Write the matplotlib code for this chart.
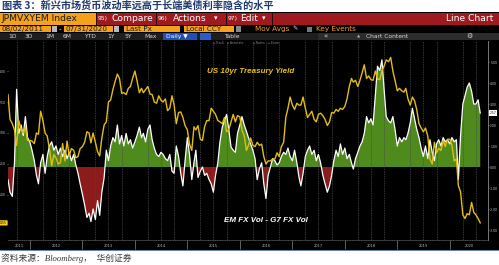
import datetime as dt

import numpy as np
import matplotlib
matplotlib.use("Agg")
import matplotlib.pyplot as plt
import matplotlib.dates as mdates
import matplotlib.transforms as mtransforms
from matplotlib.patches import Rectangle

# ---- data: two readings per month (1st and 16th), Aug 2011 .. Jul 2020 ----
# US 10yr Treasury yield (%), left axis
yield_2011 = [2.62, 2.22, 2.15, 2.05, 1.80, 2.20, 2.05, 2.00, 2.10, 1.88]
yield_2012 = [1.88, 1.87, 1.83, 2.00, 1.98, 2.35, 2.20, 2.00, 1.95, 1.75, 1.47, 1.65,
              1.60, 1.50, 1.52, 1.83, 1.55, 1.87, 1.63, 1.75, 1.72, 1.60, 1.62, 1.75]
yield_2013 = [1.78, 1.85, 2.02, 2.00, 1.84, 2.00, 1.85, 1.70, 1.63, 1.92, 2.13, 2.18,
              2.50, 2.53, 2.70, 2.83, 2.95, 2.88, 2.64, 2.65, 2.62, 2.72, 2.75, 2.88]
yield_2014 = [3.00, 2.84, 2.65, 2.72, 2.65, 2.70, 2.75, 2.63, 2.62, 2.50, 2.48, 2.60,
              2.53, 2.50, 2.55, 2.36, 2.40, 2.60, 2.45, 2.15, 2.33, 2.34, 2.25, 2.12]
yield_2015 = [2.05, 1.82, 1.72, 2.10, 2.05, 2.12, 1.90, 1.88, 2.10, 2.20, 2.20, 2.40,
              2.35, 2.30, 2.20, 2.18, 2.15, 2.25, 2.02, 2.05, 2.18, 2.30, 2.18, 2.28]
yield_2016 = [2.26, 2.05, 1.95, 1.72, 1.80, 1.92, 1.80, 1.78, 1.85, 1.80, 1.82, 1.62,
              1.50, 1.55, 1.55, 1.58, 1.58, 1.68, 1.62, 1.78, 1.85, 2.25, 2.40, 2.58]
yield_2017 = [2.45, 2.38, 2.48, 2.45, 2.45, 2.58, 2.40, 2.25, 2.30, 2.35, 2.22, 2.18,
              2.30, 2.32, 2.28, 2.22, 2.12, 2.18, 2.33, 2.32, 2.38, 2.35, 2.40, 2.38]
yield_2018 = [2.43, 2.55, 2.75, 2.88, 2.82, 2.85, 2.75, 2.85, 2.97, 3.10, 2.88, 2.92,
              2.86, 2.85, 3.00, 2.87, 2.86, 3.00, 3.08, 3.18, 3.15, 3.22, 3.00, 2.85]
yield_2019 = [2.68, 2.72, 2.68, 2.66, 2.72, 2.55, 2.45, 2.58, 2.52, 2.38, 2.15, 2.08,
              2.02, 2.08, 1.95, 1.58, 1.50, 1.85, 1.68, 1.75, 1.72, 1.88, 1.78, 1.90]
yield_2020 = [1.90, 1.80, 1.55, 1.58, 1.15, 1.05, 0.68, 0.62, 0.70, 0.68, 0.88, 0.72,
              0.68, 0.62, 0.55]

# EM FX vol minus G7 FX vol, right axis
spread_2011 = [-0.6, -1.2, -1.4, 0.2, 3.7, 1.6, 2.0, 1.5, 2.4, 1.4]
spread_2012 = [1.2, 0.8, 0.3, -0.4, -0.8, 0.2, 0.6, -0.3, 0.5, 1.0, 1.2, 0.8,
               1.0, 0.6, 0.9, 0.5, 0.8, 0.4, 0.7, 0.3, 0.6, 0.1, -0.3, -0.8]
spread_2013 = [-1.3, -1.8, -2.4, -2.2, -2.6, -2.0, -2.5, -1.6, -2.3, -1.2, -0.5, 0.8,
               0.3, 1.0, 1.4, 1.2, 2.0, 1.1, 1.5, 1.0, 1.6, 1.1, 1.3, 0.9]
spread_2014 = [1.2, 1.5, 1.9, 1.4, 1.6, 1.2, 1.8, 2.0, 1.3, 0.9, 0.6, 0.5,
               0.7, 0.6, 0.4, 0.3, 0.6, -0.2, -0.3, 1.0, 0.5, -0.3, -0.9, 0.3]
spread_2015 = [1.4, 0.6, -0.6, 0.2, 0.8, -0.5, -0.2, 0.0, -0.4, -0.3, -0.6, -0.8,
               -1.2, -0.4, 0.2, 1.2, 1.9, 2.2, 2.5, 1.8, 0.95, 0.8, 0.7, 1.6]
spread_2016 = [2.0, 2.4, 2.0, 1.7, 1.4, 1.1, 0.8, 0.4, -0.6, -0.1, 0.2, -0.8,
               -1.5, -0.4, 0.0, 0.4, 0.3, 0.1, 0.2, 0.5, 0.7, 0.6, 0.9, 0.5]
spread_2017 = [0.3, 0.8, 0.2, -0.5, -0.9, -0.3, 0.5, 0.8, 1.0, 0.6, 0.8, 0.3,
               0.6, 0.2, -0.4, -0.8, -1.2, -0.9, -0.4, 0.3, 0.8, 0.5, 1.1, 0.6]
spread_2018 = [0.9, 0.4, 0.6, 0.2, -0.1, 0.4, 0.7, 1.0, 1.2, 1.6, 2.4, 2.1,
               2.3, 2.0, 3.4, 4.8, 4.6, 5.1, 3.7, 2.4, 2.2, 2.1, 2.4, 1.8]
spread_2019 = [1.0, 1.4, 1.2, 1.4, 1.3, 1.6, 2.1, 2.8, 2.3, 1.8, 1.4, 0.9,
               0.5, 1.0, 0.4, 1.3, 0.7, 0.3, 1.1, 1.3, 1.0, 1.4, 1.2, 1.3]
spread_2020 = [1.1, 1.4, 1.2, 1.3, -0.6, 1.5, 3.0, 3.4, 3.8, 4.0, 3.6, 3.0,
               3.0, 3.2, 2.57]

year_labels = ["2011", "2012", "2013", "2014", "2015", "2016", "2017", "2018", "2019", "2020"]
left_ticks = [1.0, 1.5, 2.0, 2.5, 3.0]
right_ticks = [-3, -2, -1, 0, 1, 2, 3, 4, 5]

months = [(y, m) for y in range(2011, 2021) for m in range(1, 13)
          if (2011, 8) <= (y, m) <= (2020, 7)]
dates = [dt.date(y, m, d) for (y, m) in months for d in (1, 16)] + [dt.date(2020, 7, 31)]
dates[0] = dt.date(2011, 8, 2)

yld = np.array(yield_2011 + yield_2012 + yield_2013 + yield_2014 + yield_2015
               + yield_2016 + yield_2017 + yield_2018 + yield_2019 + yield_2020)
spread = np.array(spread_2011 + spread_2012 + spread_2013 + spread_2014 + spread_2015
                  + spread_2016 + spread_2017 + spread_2018 + spread_2019 + spread_2020)
x = mdates.date2num(dates)

# =========================
# figure + header (pixel layout of the screenshot)
# =========================
W, H = 499, 265
fig = plt.figure(figsize=(W / 100, H / 100), dpi=100, facecolor="white")


def box(x0, y0, w, h, color, z=0):
    fig.add_artist(Rectangle((x0 / W, 1 - (y0 + h) / H), w / W, h / H,
                             transform=fig.transFigure, facecolor=color,
                             edgecolor="none", zorder=z))


def txt(x0, y0, s, size, color, ha="left", **kw):
    fig.text(x0 / W, 1 - y0 / H, s, fontsize=size, color=color, ha=ha, va="center", **kw)


box(0, 12, W, 238, "black")
box(0, 249.5, W, 1, "#6a86b8", z=1)

# title + source
txt(2, 6, "图表 3：新兴市场货币波动率远高于长端美债利率隐含的水平", 7.3, "#1f3a6e",
    family=["Noto Sans CJK SC", "DejaVu Sans"], weight="bold")
txt(1, 258, "资料来源：Bloomberg，  华创证券", 6.3, "#3a3a3a",
    family=["Liberation Serif", "Noto Sans CJK SC"], style="italic")

# row 1
box(0, 12.5, 96, 12, "#f4a11d", z=1)
box(96, 12.5, 403, 12, "#9e1a1e", z=1)
for sx in (96, 156, 226, 272):
    box(sx, 12.5, 1, 12, "#2a0505", z=2)
txt(2, 18.5, "JPMVXYEM Index", 6.6, "#1a1a1a")
txt(98, 18.5, "95)", 4.3, "white")
txt(112, 18.5, "Compare", 6.6, "white")
txt(158, 18.5, "96)", 4.3, "white")
txt(173, 18.5, "Actions", 6.6, "white")
txt(214, 18.5, "▾", 5, "white")
txt(228, 18.5, "97)", 4.3, "white")
txt(240, 18.5, "Edit", 6.6, "white")
txt(262, 18.5, "▾", 5, "white")
txt(493, 18.5, "Line Chart", 6.6, "white", ha="right")

# row 2
for bx, bw, label in ((0, 51, "08/02/2011"), (64, 49, "07/31/2020"),
                      (124, 56, "Last Px"), (184, 50, "Local CCY")):
    box(bx, 25.5, bw, 6.5, "#f4a11d", z=1)
    txt(bx + 2, 28.8, label, 5.2, "#1a1a1a")
box(52, 26, 5, 5.5, "#b8b8b8", z=1)
box(114, 26, 5, 5.5, "#b8b8b8", z=1)
box(236, 26, 5, 5.5, "#8a8a8a", z=1)
txt(59, 28.8, "-", 5.2, "white")
txt(255, 28.8, "Mov Avgs", 5.2, "#f0a020")
txt(292, 28.8, "✎", 4.5, "#dddddd")
box(307, 26.5, 5, 5, "#777777", z=1)
txt(316, 28.8, "Key Events", 5.2, "#f0a020")

# row 3
box(0, 32.5, W, 7.5, "#1e1e1e", z=1)
box(318, 32.5, 181, 7.5, "#2c2c2c", z=1)
for bx, label in ((8, "1D"), (25, "3D"), (45, "1M"), (63, "6M"), (84, "YTD"),
                  (107, "1Y"), (125, "5Y"), (144, "Max"), (224, "Table")):
    txt(bx, 36.3, label, 4.3, "#d8d8d8")
box(163, 33, 34, 6.5, "#1f4fb8", z=1)
txt(166, 36.3, "Daily ▼", 4.3, "white")
box(200, 33, 11, 6.5, "#2a5cc8", z=1)
txt(323, 36.3, "«", 5, "#d8d8d8")
txt(357, 36.3, "▲", 3, "#b0b0b0")
txt(366, 36.3, "Chart Content", 4.3, "#d8d8d8")
txt(466, 36.3, "⚙", 5, "#d8d8d8")

# row 4 (tiny toolbar inside the chart)
txt(213, 43.5, "▫ Track   ▫ Annotate", 2.2, "#8a8a8a")
txt(253, 43.5, "▫ Notes   ▫ Zoom", 2.2, "#8a8a8a")

# =========================
# chart
# =========================
ax = fig.add_axes([8 / W, 25 / H, 480 / W, 199 / H])
ax.set_facecolor("black")
ax.set_zorder(3)
ax2 = ax.twinx()
ax2.set_zorder(4)
ax2.patch.set_visible(False)

x_left = mdates.date2num(dt.date(2011, 8, 2))
x_right = mdates.date2num(dt.date(2020, 9, 23))
ax.set_xlim(x_left, x_right)
ax.set_ylim(-3.476, 6.0)
ax2.set_ylim(0.274, 3.484)

# spread with green/red fill
ax.fill_between(x, spread, 0, where=spread >= 0, interpolate=True, color="#4f8a1d", lw=0)
ax.fill_between(x, spread, 0, where=spread <= 0, interpolate=True, color="#8c1b1b", lw=0)
ax.plot(x, spread, color="white", lw=0.9)

# yield line on top
ax2.plot(x, yld, color="#e3bd14", lw=1.0)

# axes styling
ax.xaxis_date()
ax.xaxis.set_major_locator(mdates.YearLocator())
ax.xaxis.set_minor_locator(mdates.MonthLocator(bymonth=(1, 4, 7, 10)))
ax.grid(True, which="minor", axis="x", color="#4a4a4a", lw=0.5, ls=(0, (2, 1.5)))
ax.tick_params(axis="x", which="major", length=6.5, width=0.6, color="#707070",
               labelbottom=False)
ax.tick_params(axis="x", which="minor", length=0)

ax.yaxis.tick_right()
ax.set_yticks(right_ticks)
ax.set_yticklabels([f"{v:.2f}" for v in right_ticks])
ax.tick_params(axis="y", labelsize=2.2, length=1.0, width=0.5, pad=0.6,
               labelcolor="#d0d0d0", color="#999999")
ax2.yaxis.tick_left()
ax2.set_yticks(left_ticks)
ax2.set_yticklabels([f"{v:.2f}" for v in left_ticks])
ax2.tick_params(axis="y", labelsize=2.2, length=1.0, width=0.5, pad=0.6,
                labelcolor="#d0d0d0", color="#999999")

for a in (ax, ax2):
    for side in ("top", "left", "right", "bottom"):
        a.spines[side].set_visible(False)
ax.spines["right"].set_visible(True)
ax.spines["right"].set_color("#8a8a8a")
ax.spines["right"].set_linewidth(0.6)
ax.spines["bottom"].set_visible(True)
ax.spines["bottom"].set_color("#6a6a6a")
ax.spines["bottom"].set_linewidth(0.5)
ax.spines["bottom"].set_linestyle((0, (1, 1.5)))

# year labels centred in each visible year
xt = mtransforms.blended_transform_factory(ax.transData, ax.transAxes)
for lab in year_labels:
    yr = int(lab)
    s = max(mdates.date2num(dt.date(yr, 1, 1)), x_left)
    e = min(mdates.date2num(dt.date(yr + 1, 1, 1)), x_right)
    ax.text((s + e) / 2, -0.03, lab, transform=xt, fontsize=2.6, color="#b8b8b8",
            ha="center", va="center", clip_on=False)

# last-value tags
rt = mtransforms.blended_transform_factory(ax.transAxes, ax.transData)
ax.text(1.004, spread[-1], f"{spread[-1]:.2f}", transform=rt, fontsize=2.2, color="black",
        ha="left", va="center", clip_on=False,
        bbox=dict(boxstyle="square,pad=0.2", fc="white", ec="none"))
lt = mtransforms.blended_transform_factory(ax2.transAxes, ax2.transData)
ax2.text(-0.002, yld[-1], f"{yld[-1]:.2f}", transform=lt, fontsize=2.2, color="black",
         ha="right", va="center", clip_on=False,
         bbox=dict(boxstyle="round,pad=0.2", fc="#f2d21a", ec="none"))

# series captions
txt(207, 72, "US 10yr Treasury Yield", 5.8, "#e8c21a", weight="bold", style="italic",
    family=["Liberation Sans", "DejaVu Sans"], zorder=6)
txt(224, 221, "EM FX Vol - G7 FX Vol", 5.8, "white", weight="bold", style="italic",
    family=["Liberation Sans", "DejaVu Sans"], zorder=6)

fig.savefig("out.png", dpi=100, facecolor="white")
